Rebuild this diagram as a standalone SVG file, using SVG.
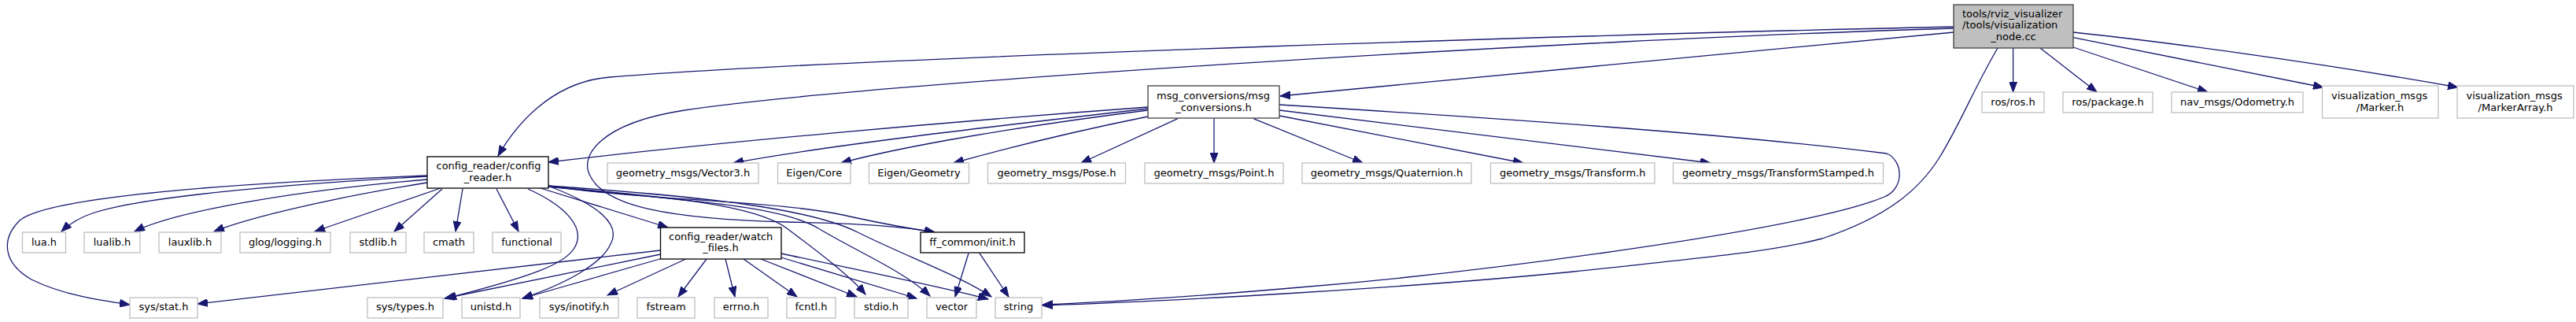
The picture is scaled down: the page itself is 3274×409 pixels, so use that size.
<svg xmlns="http://www.w3.org/2000/svg" width="3274" height="409" viewBox="0 0 3274 409">
<style>
text{font-family:"DejaVu Sans","Liberation Sans",sans-serif;font-size:13px;fill:#000}
.m{text-anchor:middle}
.s{text-anchor:start}
.ext{fill:#fff;stroke:#bfbfbf;stroke-width:1.3}
.doc{fill:#fff;stroke:#000;stroke-width:1.3}
.doc2{fill:#fff;stroke:#404040;stroke-width:1.3}
.root{fill:#bfbfbf;stroke:#404040;stroke-width:1.3}
#edges path{fill:none;stroke:#191970;stroke-width:1.3;marker-end:url(#a)}
</style>
<defs>
<marker id="a" markerWidth="14" markerHeight="10" refX="13" refY="5" orient="auto" markerUnits="userSpaceOnUse">
<path d="M0,0 L13,5 L0,10 z" fill="#191970" stroke="#191970" stroke-width="1"/>
</marker>
</defs>
<rect width="3274" height="409" fill="#fff"/>
<g id="edges">
<!-- from main node -->
<path d="M2483,34 C2100,42 1100,72 775,98 C700,104 655,160 633,198"/>
<path d="M2483,36 C2000,50 1100,105 870,140 C760,157 735,200 751,225 C770,262 850,278 1000,282 C1100,284 1150,288 1188,295"/>
<path d="M2483,41 L1627,122"/>
<path d="M2539,61 C2510,110 2490,160 2465,200 C2440,240 2400,275 2316,303 C2250,320 2184,325 2000,345 C1800,365 1500,382 1325,388"/>
<path d="M2558.6,61 L2558.6,117"/>
<path d="M2593,61 L2665,117"/>
<path d="M2635,60 L2806,117"/>
<path d="M2635,47.7 L2953,111"/>
<path d="M2635,41 C2750,53 2950,80 3124,111"/>
<!-- from msg_conversions -->
<path d="M1459,136 C1200,155 900,182 697,206"/>
<path d="M1459,138 C1250,162 1050,185 932,207"/>
<path d="M1459,140 C1300,160 1150,185 1069,207"/>
<path d="M1459,148 C1350,170 1280,188 1212,207"/>
<path d="M1497,150.7 L1374,207"/>
<path d="M1543,150.7 L1543,207"/>
<path d="M1593,150.7 L1732,207"/>
<path d="M1626,147 L1936,207"/>
<path d="M1626,140 L2174,207"/>
<path d="M1626,133 C1900,150 2200,170 2398,195 C2420,205 2420,240 2395,250 C2300,290 1900,345 1640,366 C1500,378 1400,384 1325,387"/>
<!-- from config_reader -->
<path d="M543,224 C420,231 200,245 120,270 Q95,278 78,294"/>
<path d="M543,228 C400,240 230,265 171,294"/>
<path d="M543,232 C430,250 320,275 272,294"/>
<path d="M560,239 L400,294"/>
<path d="M562,240 L501,294"/>
<path d="M588,240 L579,294"/>
<path d="M631,240 L659,294"/>
<path d="M543,223 C300,232 60,250 25,280 C0,305 5,335 40,355 C80,375 130,382 165,387"/>
<path d="M671,240 C720,262 745,290 730,315 C718,335 680,350 567,379"/>
<path d="M699,237 C760,260 790,285 776,310 C765,335 720,360 664,379"/>
<path d="M687,239 L849,289"/>
<path d="M697,236 C820,255 1000,255 1080,275 Q1140,288 1188,295"/>
<path d="M697,237 C850,250 960,260 1000,290 C1040,320 1080,350 1100,374"/>
<path d="M697,237 C870,255 990,260 1040,290 C1090,320 1150,345 1182,376"/>
<path d="M697,236 C900,250 1030,265 1090,295 C1150,325 1220,350 1260,377"/>
<!-- from watch_files -->
<path d="M839.5,318 L251,386"/>
<path d="M839.5,323 L565,379"/>
<path d="M842,328 L664,379"/>
<path d="M871.6,329 L772,375"/>
<path d="M898,329 L862,377"/>
<path d="M922,329 L934,377"/>
<path d="M945,329 L1013,377"/>
<path d="M967,329 L1089,377"/>
<path d="M993,327 L1165,379"/>
<path d="M993,322 C1100,345 1200,365 1256,380"/>
<!-- from ff_common -->
<path d="M1231,321.7 L1214,377"/>
<path d="M1245,321.7 L1282,377"/>
</g>

<g id="n_main"><rect class="root" x="2483" y="6" width="152" height="55"/>
<text class="s" x="2494" y="21.5">tools/rviz_visualizer</text>
<text class="s" x="2494" y="36">/tools/visualization</text>
<text class="m" x="2559" y="50.5">_node.cc</text></g>

<g id="n_rosh"><rect class="ext" x="2519" y="117" width="79" height="26"/><text class="m" x="2558.5" y="133.5">ros/ros.h</text></g>
<g id="n_package"><rect class="ext" x="2622" y="117" width="114" height="26"/><text class="m" x="2679" y="133.5">ros/package.h</text></g>
<g id="n_odom"><rect class="ext" x="2760" y="117" width="167" height="26"/><text class="m" x="2843.5" y="133.5">nav_msgs/Odometry.h</text></g>
<g id="n_marker"><rect class="ext" x="2951.5" y="109" width="147.5" height="41"/>
<text class="s" x="2963" y="126">visualization_msgs</text><text class="m" x="3025" y="141">/Marker.h</text></g>
<g id="n_markerarray"><rect class="ext" x="3123" y="109" width="148" height="41"/>
<text class="s" x="3134.5" y="126">visualization_msgs</text><text class="m" x="3197" y="141">/MarkerArray.h</text></g>

<g id="n_msgconv"><rect class="doc2" x="1459" y="109" width="167" height="41"/>
<text class="s" x="1470" y="126">msg_conversions/msg</text><text class="m" x="1542.5" y="141">_conversions.h</text></g>

<g id="n_config"><rect class="doc" x="543" y="199" width="154" height="40"/>
<text class="s" x="554.5" y="215">config_reader/config</text><text class="m" x="620" y="229.5">_reader.h</text></g>

<g id="n_vector3"><rect class="ext" x="772" y="207" width="192" height="26"/><text class="m" x="868" y="223.5">geometry_msgs/Vector3.h</text></g>
<g id="n_eigencore"><rect class="ext" x="988.5" y="207" width="92.5" height="26"/><text class="m" x="1034.75" y="223.5">Eigen/Core</text></g>
<g id="n_eigengeom"><rect class="ext" x="1104.5" y="207" width="127" height="26"/><text class="m" x="1168" y="223.5">Eigen/Geometry</text></g>
<g id="n_pose"><rect class="ext" x="1255.5" y="207" width="175" height="26"/><text class="m" x="1343" y="223.5">geometry_msgs/Pose.h</text></g>
<g id="n_point"><rect class="ext" x="1455" y="207" width="176" height="26"/><text class="m" x="1543" y="223.5">geometry_msgs/Point.h</text></g>
<g id="n_quat"><rect class="ext" x="1655" y="207" width="215" height="26"/><text class="m" x="1762.5" y="223.5">geometry_msgs/Quaternion.h</text></g>
<g id="n_transform"><rect class="ext" x="1894.5" y="207" width="208.5" height="26"/><text class="m" x="1998.75" y="223.5">geometry_msgs/Transform.h</text></g>
<g id="n_tfstamped"><rect class="ext" x="2126.5" y="207" width="267" height="26"/><text class="m" x="2260" y="223.5">geometry_msgs/TransformStamped.h</text></g>

<g id="n_lua"><rect class="ext" x="28.5" y="295" width="55" height="26"/><text class="m" x="56" y="312">lua.h</text></g>
<g id="n_lualib"><rect class="ext" x="107" y="295" width="71" height="26"/><text class="m" x="142.5" y="312">lualib.h</text></g>
<g id="n_lauxlib"><rect class="ext" x="202" y="295" width="79" height="26"/><text class="m" x="241.5" y="312">lauxlib.h</text></g>
<g id="n_glog"><rect class="ext" x="305" y="295" width="115" height="26"/><text class="m" x="362.5" y="312">glog/logging.h</text></g>
<g id="n_stdlib"><rect class="ext" x="445" y="295" width="71" height="26"/><text class="m" x="480.5" y="312">stdlib.h</text></g>
<g id="n_cmath"><rect class="ext" x="539" y="295" width="63" height="26"/><text class="m" x="570.5" y="312">cmath</text></g>
<g id="n_functional"><rect class="ext" x="626" y="295" width="87" height="26"/><text class="m" x="669.5" y="312">functional</text></g>
<g id="n_watch"><rect class="doc" x="839.5" y="289" width="153.5" height="40"/>
<text class="s" x="850" y="305">config_reader/watch</text><text class="m" x="916" y="318.5">_files.h</text></g>
<g id="n_ffinit"><rect class="doc" x="1170" y="295" width="132" height="26"/><text class="m" x="1236" y="312">ff_common/init.h</text></g>

<g id="n_sysstat"><rect class="ext" x="165" y="378" width="86" height="26"/><text class="m" x="208" y="394">sys/stat.h</text></g>
<g id="n_systypes"><rect class="ext" x="467" y="378" width="96" height="26"/><text class="m" x="515" y="394">sys/types.h</text></g>
<g id="n_unistd"><rect class="ext" x="587" y="378" width="74" height="26"/><text class="m" x="624" y="394">unistd.h</text></g>
<g id="n_inotify"><rect class="ext" x="686" y="378" width="100" height="26"/><text class="m" x="736" y="394">sys/inotify.h</text></g>
<g id="n_fstream"><rect class="ext" x="810" y="378" width="73" height="26"/><text class="m" x="846.5" y="394">fstream</text></g>
<g id="n_errno"><rect class="ext" x="908" y="378" width="68" height="26"/><text class="m" x="942" y="394">errno.h</text></g>
<g id="n_fcntl"><rect class="ext" x="1000" y="378" width="62" height="26"/><text class="m" x="1031" y="394">fcntl.h</text></g>
<g id="n_stdio"><rect class="ext" x="1086" y="378" width="68" height="26"/><text class="m" x="1120" y="394">stdio.h</text></g>
<g id="n_vector"><rect class="ext" x="1178" y="378" width="63" height="26"/><text class="m" x="1209.5" y="394">vector</text></g>
<g id="n_string"><rect class="ext" x="1265" y="378" width="59" height="26"/><text class="m" x="1294.5" y="394">string</text></g>
</svg>
